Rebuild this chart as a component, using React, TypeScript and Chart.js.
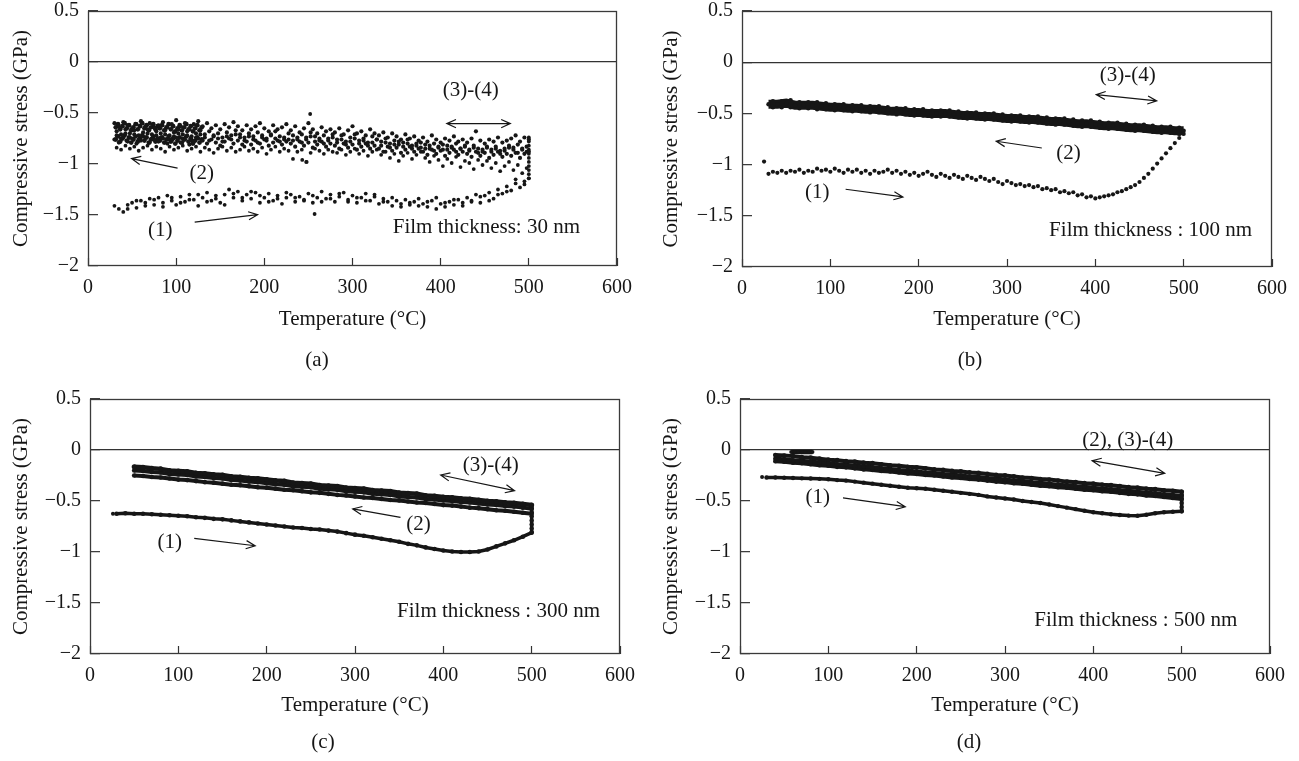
import React, { useEffect, useRef } from "react";
import { Chart, registerables } from "chart.js";

Chart.register(...registerables);

const FONT = "'Liberation Serif', 'Times New Roman', serif";
const INK = "#161616";

const X_TITLE = "Temperature (°C)";
const Y_TITLE = "Compressive stress (GPa)";
const X_TICKS = [0, 100, 200, 300, 400, 500, 600];
const Y_TICKS = [-2, -1.5, -1, -0.5, 0, 0.5];
const CAPTIONS = ["(a)", "(b)", "(c)", "(d)"];
const THICKNESS = ["Film thickness: 30 nm", "Film thickness : 100 nm", "Film thickness : 300 nm", "Film thickness : 500 nm"];

// ---------- shared temperature grids (°C) ----------
const T5 = [30,35,40,45,50,55,60,65,70,75,80,85,90,95,100,105,110,115,120,125,130,135,140,145,150,155,160,165,170,175,180,185,190,195,200,205,210,215,220,225,230,235,240,245,250,255,260,265,270,275,280,285,290,295,300,305,310,315,320,325,330,335,340,345,350,355,360,365,370,375,380,385,390,395,400,405,410,415,420,425,430,435,440,445,450,455,460,465,470,475,480,485,490,495,500];
const T5S = [32.5,37.5,42.5,47.5,52.5,57.5,62.5,67.5,72.5,77.5,82.5,87.5,92.5,97.5,102.5,107.5,112.5,117.5,122.5,127.5,132.5,137.5,142.5,147.5,152.5,157.5,162.5,167.5,172.5,177.5,182.5,187.5,192.5,197.5,202.5,207.5,212.5,217.5,222.5,227.5,232.5,237.5,242.5,247.5,252.5,257.5,262.5,267.5,272.5,277.5,282.5,287.5,292.5,297.5,302.5,307.5,312.5,317.5,322.5,327.5,332.5,337.5,342.5,347.5,352.5,357.5,362.5,367.5,372.5,377.5,382.5,387.5,392.5,397.5,402.5,407.5,412.5,417.5,422.5,427.5,432.5,437.5,442.5,447.5,452.5,457.5,462.5,467.5,472.5,477.5,482.5,487.5,492.5,497.5];
const T10 = [30,40,50,60,70,80,90,100,110,120,130,140,150,160,170,180,190,200,210,220,230,240,250,260,270,280,290,300,310,320,330,340,350,360,370,380,390,400,410,420,430,440,450,460,470,480,490,500];
const T10B = [35,45,55,65,75,85,95,105,115,125,135,145,155,165,175,185,195,205,215,225,235,245,255,265,275,285,295,305,315,325,335,345,355,365,375,385,395,405,415,425,435,445,455,465,475,485,495];
const T10C = [50,60,70,80,90,100,110,120,130,140,150,160,170,180,190,200,210,220,230,240,250,260,270,280,290,300,310,320,330,340,350,360,370,380,390,400,410,420,430,440,450,460,470,480,490,500];
const T10D = [40,50,60,70,80,90,100,110,120,130,140,150,160,170,180,190,200,210,220,230,240,250,260,270,280,290,300,310,320,330,340,350,360,370,380,390,400,410,420,430,440,450,460,470,480,490,500];
const T_END = [500,500,500,500,500,500,500,500,500,500,500];

// ---------- (a) 30 nm ----------
const A_HEAT1 = [-1.41,-1.44,-1.47,-1.40,-1.38,-1.43,-1.36,-1.41,-1.34,-1.40,
  -1.33,-1.38,-1.31,-1.36,-1.40,-1.32,-1.37,-1.30,-1.35,-1.41,
  -1.33,-1.28,-1.36,-1.31,-1.38,-1.30,-1.25,-1.33,-1.27,-1.36,
  -1.30,-1.34,-1.28,-1.38,-1.33,-1.29,-1.36,-1.31,-1.39,-1.33,
  -1.30,-1.37,-1.32,-1.35,-1.29,-1.38,-1.33,-1.27,-1.34,-1.30,
  -1.37,-1.32,-1.28,-1.35,-1.31,-1.38,-1.33,-1.29,-1.36,-1.32,
  -1.39,-1.34,-1.37,-1.41,-1.36,-1.39,-1.35,-1.40,-1.37,-1.34,
  -1.39,-1.42,-1.36,-1.33,-1.39,-1.42,-1.37,-1.40,-1.35,-1.38,
  -1.33,-1.36,-1.30,-1.38,-1.31,-1.28,-1.34,-1.25,-1.29,-1.22,
  -1.26,-1.19,-1.23,-1.17,-1.14];
const A_HEAT1B_T = [45,55,65,75,85,95,105,115,125,135,145,155,165,175,185,195,205,215,225,235,245,255,265,275,285,295,305,315,325,335,345,355,365,375,385,395,405,415,425,435,445,455,465,475,485,495];
const A_HEAT1B = [-1.44,-1.36,-1.38,-1.35,-1.42,-1.33,-1.38,-1.35,-1.30,-1.37,
  -1.34,-1.40,-1.29,-1.33,-1.27,-1.31,-1.37,-1.34,-1.28,-1.33,
  -1.36,-1.31,-1.37,-1.34,-1.29,-1.37,-1.33,-1.36,-1.30,-1.37,
  -1.33,-1.42,-1.38,-1.41,-1.37,-1.44,-1.38,-1.35,-1.41,-1.37,
  -1.32,-1.36,-1.30,-1.27,-1.15,-1.20];
const A_BAND1 = [-0.60,-0.63,-0.59,-0.62,-0.65,-0.61,-0.58,-0.63,-0.60,-0.64,
  -0.62,-0.59,-0.64,-0.61,-0.57,-0.63,-0.60,-0.66,-0.61,-0.58,
  -0.63,-0.60,-0.65,-0.62,-0.66,-0.61,-0.64,-0.59,-0.63,-0.67,
  -0.62,-0.66,-0.63,-0.60,-0.65,-0.68,-0.62,-0.66,-0.64,-0.61,
  -0.67,-0.63,-0.69,-0.65,-0.60,-0.66,-0.70,-0.64,-0.68,-0.66,
  -0.69,-0.65,-0.71,-0.67,-0.63,-0.70,-0.68,-0.72,-0.66,-0.70,
  -0.72,-0.69,-0.74,-0.70,-0.73,-0.76,-0.71,-0.75,-0.73,-0.77,
  -0.74,-0.78,-0.72,-0.76,-0.79,-0.75,-0.77,-0.73,-0.78,-0.76,
  -0.79,-0.75,-0.68,-0.77,-0.80,-0.76,-0.78,-0.74,-0.79,-0.77,
  -0.75,-0.72,-0.78,-0.74,-0.76];
const A_BAND2 = [-0.68,-0.71,-0.66,-0.70,-0.67,-0.72,-0.69,-0.66,-0.71,-0.68,
  -0.70,-0.67,-0.72,-0.69,-0.66,-0.71,-0.68,-0.73,-0.70,-0.67,
  -0.71,-0.68,-0.73,-0.70,-0.74,-0.69,-0.72,-0.67,-0.71,-0.74,
  -0.70,-0.73,-0.69,-0.72,-0.75,-0.71,-0.68,-0.73,-0.76,-0.70,
  -0.72,-0.76,-0.71,-0.74,-0.69,-0.73,-0.77,-0.72,-0.75,-0.71,
  -0.76,-0.72,-0.78,-0.74,-0.71,-0.77,-0.75,-0.79,-0.73,-0.76,
  -0.78,-0.75,-0.80,-0.77,-0.81,-0.79,-0.76,-0.82,-0.80,-0.84,
  -0.81,-0.85,-0.80,-0.83,-0.86,-0.82,-0.84,-0.80,-0.85,-0.83,
  -0.86,-0.82,-0.85,-0.88,-0.84,-0.86,-0.83,-0.87,-0.85,-0.82,
  -0.84,-0.81,-0.86,-0.83];
const A_BAND3 = [-0.76,-0.79,-0.74,-0.78,-0.75,-0.80,-0.77,-0.74,-0.79,-0.76,
  -0.78,-0.75,-0.80,-0.77,-0.74,-0.79,-0.76,-0.81,-0.78,-0.75,
  -0.77,-0.80,-0.76,-0.79,-0.82,-0.78,-0.75,-0.80,-0.77,-0.81,
  -0.78,-0.81,-0.77,-0.80,-0.76,-0.82,-0.79,-0.77,-0.81,-0.78,
  -0.80,-0.83,-0.78,-0.82,-0.79,-0.84,-0.81,-0.78,-0.83,-0.80,
  -0.82,-0.85,-0.80,-0.84,-0.81,-0.86,-0.83,-0.80,-0.85,-0.82,
  -0.85,-0.88,-0.83,-0.87,-0.84,-0.89,-0.86,-0.83,-0.88,-0.85,
  -0.88,-0.91,-0.86,-0.90,-0.87,-0.92,-0.89,-0.86,-0.91,-0.88,
  -0.90,-0.93,-0.88,-0.92,-0.89,-0.94,-0.91,-0.88,-0.93,-0.90,
  -0.92,-0.89,-0.94,-0.90,-0.88];
const A_BAND4 = [-0.84,-0.86,-0.82,-0.85,-0.83,-0.87,-0.84,-0.82,-0.86,-0.83,
  -0.85,-0.88,-0.83,-0.86,-0.84,-0.82,-0.87,-0.85,-0.83,-0.88,
  -0.84,-0.86,-0.89,-0.85,-0.83,-0.87,-0.84,-0.88,-0.86,-0.83,
  -0.87,-0.85,-0.88,-0.84,-0.90,-0.86,-0.83,-0.88,-0.85,-0.87,
  -0.95,-0.88,-0.86,-0.98,-0.89,-0.85,-0.87,-0.90,-0.86,-0.88,
  -0.89,-0.86,-0.91,-0.88,-0.85,-0.90,-0.87,-0.92,-0.88,-0.86,
  -0.91,-0.88,-0.94,-0.90,-0.97,-0.92,-0.89,-0.95,-0.91,-0.88,
  -0.94,-0.98,-0.92,-0.96,-1.02,-0.95,-0.99,-0.93,-1.03,-0.97,
  -0.99,-1.05,-0.96,-1.01,-0.97,-1.04,-0.99,-1.07,-1.02,-0.98,
  -1.06,-1.01,-1.09,-1.04];
const A_BAND5 = [-0.72,-0.75,-0.70,-0.74,-0.71,-0.76,-0.73,-0.70,-0.75,-0.72,
  -0.74,-0.71,-0.76,-0.73,-0.70,-0.75,-0.72,-0.77,-0.74,-0.71,
  -0.74,-0.77,-0.72,-0.75,-0.78,-0.73,-0.76,-0.71,-0.74,-0.77,
  -0.73,-0.76,-0.79,-0.74,-0.77,-0.72,-0.75,-0.78,-0.74,-0.76,
  -0.77,-0.74,-0.79,-0.76,-0.73,-0.78,-0.75,-0.80,-0.77,-0.74,
  -0.79,-0.76,-0.81,-0.78,-0.75,-0.80,-0.77,-0.82,-0.79,-0.76,
  -0.82,-0.79,-0.84,-0.81,-0.78,-0.83,-0.80,-0.85,-0.82,-0.79,
  -0.85,-0.82,-0.87,-0.84,-0.81,-0.86,-0.83,-0.88,-0.85,-0.82,
  -0.87,-0.84,-0.89,-0.86,-0.83,-0.88,-0.85,-0.90,-0.87,-0.84,
  -0.86,-0.89,-0.85,-0.88];
const A_DENSE_T = [31.5,34,36.5,39,41.5,44,46.5,49,51.5,54,56.5,59,61.5,64,66.5,69,71.5,74,76.5,79,81.5,84,86.5,89,91.5,94,96.5,99,101.5,104,106.5,109,111.5,114,116.5,119,121.5,124,126.5,129];
const A_DENSE1 = [-0.64,-0.61,-0.66,-0.63,-0.60,-0.65,-0.62,-0.67,-0.64,-0.61,
  -0.66,-0.63,-0.60,-0.65,-0.62,-0.67,-0.64,-0.61,-0.66,-0.63,
  -0.65,-0.62,-0.67,-0.64,-0.61,-0.66,-0.63,-0.68,-0.65,-0.62,
  -0.67,-0.64,-0.61,-0.66,-0.63,-0.68,-0.65,-0.62,-0.67,-0.64];
const A_DENSE2 = [-0.76,-0.73,-0.78,-0.75,-0.72,-0.77,-0.74,-0.79,-0.76,-0.73,
  -0.78,-0.75,-0.72,-0.77,-0.74,-0.79,-0.76,-0.73,-0.78,-0.75,
  -0.77,-0.74,-0.79,-0.76,-0.73,-0.78,-0.75,-0.80,-0.77,-0.74,
  -0.79,-0.76,-0.73,-0.78,-0.75,-0.80,-0.77,-0.74,-0.79,-0.76];
const A_END = [-0.74,-0.78,-0.82,-0.86,-0.90,-0.94,-0.98,-1.02,-1.06,-1.10,-1.14];
const A_STRAY_T = [252, 257, 243, 248];
const A_STRAY = [-0.51, -1.49, -0.96, -0.98];

// ---------- (b) 100 nm ----------
const B_HEAT1 = [-1.09,-1.07,-1.08,-1.06,-1.08,-1.06,-1.07,-1.05,-1.08,-1.06,
  -1.07,-1.04,-1.06,-1.05,-1.07,-1.04,-1.06,-1.08,-1.05,-1.07,
  -1.05,-1.08,-1.06,-1.09,-1.06,-1.08,-1.07,-1.05,-1.08,-1.06,
  -1.09,-1.07,-1.10,-1.08,-1.11,-1.09,-1.07,-1.10,-1.12,-1.09,
  -1.11,-1.13,-1.10,-1.12,-1.14,-1.11,-1.13,-1.15,-1.12,-1.14,
  -1.16,-1.14,-1.17,-1.19,-1.16,-1.18,-1.20,-1.19,-1.21,-1.20,
  -1.22,-1.21,-1.24,-1.23,-1.25,-1.24,-1.27,-1.26,-1.28,-1.27,
  -1.30,-1.29,-1.32,-1.31,-1.33,-1.32,-1.31,-1.30,-1.29,-1.27,
  -1.26,-1.24,-1.22,-1.20,-1.17,-1.13,-1.09,-1.04,-0.99,-0.94,
  -0.89,-0.84,-0.79,-0.74,-0.70];
const B_STRAY_T = [25];
const B_STRAY = [-0.97];
const B_CORE = [-0.41,-0.41,-0.40,-0.42,-0.42,-0.42,-0.43,-0.44,-0.44,-0.45,
  -0.45,-0.46,-0.46,-0.47,-0.48,-0.48,-0.49,-0.49,-0.50,-0.50,
  -0.50,-0.51,-0.52,-0.52,-0.53,-0.53,-0.54,-0.55,-0.55,-0.56,
  -0.56,-0.57,-0.58,-0.58,-0.59,-0.60,-0.60,-0.61,-0.62,-0.62,
  -0.63,-0.64,-0.64,-0.65,-0.66,-0.66,-0.67,-0.67];
const B_TOP = [-0.38,-0.38,-0.37,-0.39,-0.39,-0.39,-0.40,-0.41,-0.41,-0.42,
  -0.42,-0.43,-0.43,-0.44,-0.45,-0.45,-0.46,-0.46,-0.47,-0.47,
  -0.47,-0.48,-0.49,-0.49,-0.50,-0.50,-0.51,-0.52,-0.52,-0.53,
  -0.53,-0.54,-0.55,-0.55,-0.56,-0.57,-0.57,-0.58,-0.59,-0.59,
  -0.60,-0.61,-0.61,-0.62,-0.63,-0.63,-0.64];
const B_BOT = [-0.44,-0.44,-0.44,-0.45,-0.45,-0.46,-0.46,-0.47,-0.47,-0.48,
  -0.48,-0.49,-0.49,-0.50,-0.51,-0.51,-0.52,-0.52,-0.53,-0.53,
  -0.53,-0.54,-0.55,-0.55,-0.56,-0.56,-0.57,-0.58,-0.58,-0.59,
  -0.59,-0.60,-0.61,-0.61,-0.62,-0.63,-0.63,-0.64,-0.65,-0.65,
  -0.66,-0.67,-0.67,-0.68,-0.69,-0.69,-0.70];

// ---------- (c) 300 nm ----------
const C_HEAT1 = [-0.625,-0.62,-0.625,-0.625,-0.63,-0.635,-0.64,-0.645,-0.65,-0.66,
  -0.665,-0.675,-0.68,-0.69,-0.70,-0.71,-0.72,-0.73,-0.74,-0.75,
  -0.76,-0.765,-0.775,-0.78,-0.79,-0.80,-0.815,-0.83,-0.84,-0.855,
  -0.87,-0.885,-0.90,-0.92,-0.935,-0.955,-0.97,-0.985,-0.995,-1.0,
  -1.0,-0.995,-0.975,-0.945,-0.915,-0.885,-0.85,-0.81];
const C_COOL2 = [-0.25,-0.255,-0.265,-0.27,-0.28,-0.29,-0.295,-0.305,-0.315,-0.32,
  -0.33,-0.34,-0.345,-0.355,-0.365,-0.37,-0.38,-0.39,-0.395,-0.405,
  -0.415,-0.42,-0.43,-0.44,-0.445,-0.455,-0.465,-0.47,-0.48,-0.49,
  -0.495,-0.505,-0.515,-0.52,-0.53,-0.54,-0.545,-0.555,-0.565,-0.57,
  -0.58,-0.59,-0.595,-0.605,-0.615,-0.625];
const C_CYC3 = [-0.165,-0.17,-0.18,-0.185,-0.20,-0.205,-0.21,-0.225,-0.23,-0.24,
  -0.245,-0.26,-0.265,-0.275,-0.28,-0.29,-0.30,-0.305,-0.32,-0.325,
  -0.33,-0.345,-0.35,-0.355,-0.37,-0.375,-0.38,-0.395,-0.40,-0.405,
  -0.42,-0.425,-0.43,-0.445,-0.45,-0.46,-0.465,-0.475,-0.48,-0.49,
  -0.50,-0.505,-0.515,-0.52,-0.53,-0.54];
const C_CYC4 = [-0.20,-0.205,-0.215,-0.22,-0.235,-0.24,-0.245,-0.26,-0.265,-0.275,
  -0.28,-0.295,-0.30,-0.31,-0.315,-0.325,-0.335,-0.34,-0.355,-0.36,
  -0.365,-0.38,-0.385,-0.39,-0.405,-0.41,-0.415,-0.43,-0.435,-0.44,
  -0.455,-0.46,-0.465,-0.48,-0.485,-0.495,-0.50,-0.51,-0.515,-0.525,
  -0.535,-0.54,-0.55,-0.555,-0.565,-0.575];
const C_END = [-0.81,-0.77,-0.73,-0.69,-0.65,-0.61,-0.57,-0.54];
const C_STRAY_T = [26];
const C_STRAY = [-0.625];

// ---------- (d) 500 nm ----------
const D_HEAT1 = [-0.27,-0.27,-0.272,-0.275,-0.278,-0.28,-0.283,-0.287,-0.295,-0.30,
  -0.31,-0.32,-0.33,-0.34,-0.35,-0.36,-0.37,-0.375,-0.38,-0.39,
  -0.40,-0.41,-0.42,-0.43,-0.44,-0.455,-0.465,-0.475,-0.485,-0.50,
  -0.51,-0.52,-0.535,-0.55,-0.565,-0.58,-0.595,-0.61,-0.62,-0.63,
  -0.637,-0.643,-0.645,-0.635,-0.62,-0.61,-0.605,-0.60];
const D_COOL2 = [-0.05,-0.055,-0.06,-0.07,-0.075,-0.085,-0.095,-0.10,-0.11,-0.115,
  -0.125,-0.13,-0.14,-0.15,-0.155,-0.165,-0.17,-0.18,-0.19,-0.195,
  -0.205,-0.21,-0.22,-0.225,-0.235,-0.245,-0.25,-0.26,-0.27,-0.275,
  -0.285,-0.29,-0.30,-0.31,-0.315,-0.325,-0.33,-0.34,-0.345,-0.355,
  -0.365,-0.37,-0.38,-0.385,-0.395,-0.40,-0.41];
const D_CYC3 = [-0.085,-0.09,-0.10,-0.105,-0.115,-0.12,-0.13,-0.14,-0.145,-0.155,
  -0.16,-0.17,-0.18,-0.185,-0.195,-0.20,-0.21,-0.22,-0.225,-0.235,
  -0.24,-0.25,-0.26,-0.265,-0.275,-0.28,-0.29,-0.30,-0.305,-0.315,
  -0.32,-0.33,-0.34,-0.345,-0.355,-0.36,-0.37,-0.38,-0.385,-0.395,
  -0.40,-0.41,-0.42,-0.425,-0.435,-0.44,-0.45];
const D_CYC4 = [-0.11,-0.115,-0.125,-0.13,-0.14,-0.15,-0.155,-0.165,-0.17,-0.18,
  -0.19,-0.195,-0.205,-0.21,-0.22,-0.23,-0.235,-0.245,-0.25,-0.26,
  -0.27,-0.275,-0.285,-0.29,-0.30,-0.31,-0.315,-0.325,-0.33,-0.34,
  -0.35,-0.355,-0.365,-0.37,-0.38,-0.39,-0.395,-0.405,-0.41,-0.42,
  -0.43,-0.435,-0.445,-0.45,-0.46,-0.47,-0.48];
const D_BAR_T = [58, 62, 66, 70, 74, 78, 82];
const D_BAR = [-0.02, -0.02, -0.02, -0.02, -0.02, -0.02, -0.02];
const D_END = [-0.60,-0.56,-0.52,-0.48,-0.44,-0.41];
const D_STRAY_T = [25];
const D_STRAY = [-0.265];

// ---------- annotations (data coordinates) ----------
type Txt = { text: string; x: number; y: number; align?: CanvasTextAlign };
type Arw = { x1: number; y1: number; x2: number; y2: number; both?: boolean };

const A_TEXTS: Txt[] = [
  { text: "(3)-(4)", x: 434, y: -0.277 },
  { text: "(2)", x: 129, y: -1.09 },
  { text: "(1)", x: 82, y: -1.65 },
  { text: THICKNESS[0], x: 558, y: -1.618, align: "right" },
];
const A_ARROWS: Arw[] = [
  { x1: 407, y1: -0.604, x2: 479, y2: -0.604, both: true },
  { x1: 101.6, y1: -1.04, x2: 49.4, y2: -0.947 },
  { x1: 121, y1: -1.569, x2: 192.4, y2: -1.497 },
];
const B_TEXTS: Txt[] = [
  { text: "(3)-(4)", x: 436.6, y: -0.127 },
  { text: "(2)", x: 369.7, y: -0.893 },
  { text: "(1)", x: 85.2, y: -1.274 },
  { text: THICKNESS[1], x: 577.5, y: -1.642, align: "right" },
];
const B_ARROWS: Arw[] = [
  { x1: 401, y1: -0.316, x2: 469.5, y2: -0.378, both: true },
  { x1: 339.4, y1: -0.838, x2: 287.8, y2: -0.772 },
  { x1: 117.3, y1: -1.241, x2: 182.2, y2: -1.316 },
];
const C_TEXTS: Txt[] = [
  { text: "(3)-(4)", x: 453.7, y: -0.147 },
  { text: "(2)", x: 372, y: -0.732 },
  { text: "(1)", x: 90.2, y: -0.906 },
  { text: THICKNESS[2], x: 577.4, y: -1.585, align: "right" },
];
const C_ARROWS: Arw[] = [
  { x1: 397, y1: -0.245, x2: 480.6, y2: -0.399, both: true },
  { x1: 351.5, y1: -0.661, x2: 297.4, y2: -0.578 },
  { x1: 118, y1: -0.867, x2: 187, y2: -0.939 },
];
const D_TEXTS: Txt[] = [
  { text: "(2), (3)-(4)", x: 439, y: 0.091 },
  { text: "(1)", x: 88, y: -0.47 },
  { text: THICKNESS[3], x: 563, y: -1.667, align: "right" },
];
const D_ARROWS: Arw[] = [
  { x1: 398.6, y1: -0.105, x2: 480.8, y2: -0.229, both: true },
  { x1: 116.6, y1: -0.47, x2: 187.1, y2: -0.556 },
];

// ---------- panel definitions ----------
type Series = { x: number[]; y: number[]; r: number; line?: number };
type Panel = { caption: string; series: Series[]; texts: Txt[]; arrows: Arw[] };

const PANELS: Panel[] = [
  {
    caption: CAPTIONS[0],
    series: [
      { x: T5, y: A_HEAT1, r: 1.9 },
      { x: A_HEAT1B_T, y: A_HEAT1B, r: 1.9 },
      { x: T5, y: A_BAND1, r: 2.1 },
      { x: T5S, y: A_BAND2, r: 2.1 },
      { x: T5, y: A_BAND3, r: 2.1 },
      { x: T5S, y: A_BAND4, r: 1.9 },
      { x: T5S, y: A_BAND5, r: 2.1 },
      { x: A_DENSE_T, y: A_DENSE1, r: 2.4 },
      { x: A_DENSE_T, y: A_DENSE2, r: 2.4 },
      { x: T_END, y: A_END, r: 1.9 },
      { x: A_STRAY_T, y: A_STRAY, r: 1.9 },
    ],
    texts: A_TEXTS,
    arrows: A_ARROWS,
  },
  {
    caption: CAPTIONS[1],
    series: [
      { x: T5, y: B_HEAT1, r: 2.1 },
      { x: B_STRAY_T, y: B_STRAY, r: 2.1 },
      { x: T10, y: B_CORE, r: 2.2, line: 9 },
      { x: T10B, y: B_TOP, r: 2.2 },
      { x: T10B, y: B_BOT, r: 2.2 },
    ],
    texts: B_TEXTS,
    arrows: B_ARROWS,
  },
  {
    caption: CAPTIONS[2],
    series: [
      { x: T10, y: C_HEAT1, r: 2.3, line: 3.5 },
      { x: C_STRAY_T, y: C_STRAY, r: 2 },
      { x: T10C, y: C_COOL2, r: 2.3, line: 4 },
      { x: T10C, y: C_CYC3, r: 2.5, line: 4.5 },
      { x: T10C, y: C_CYC4, r: 2.3, line: 4 },
      { x: T_END.slice(0, C_END.length), y: C_END, r: 2.2, line: 3.5 },
    ],
    texts: C_TEXTS,
    arrows: C_ARROWS,
  },
  {
    caption: CAPTIONS[3],
    series: [
      { x: T10, y: D_HEAT1, r: 2.2, line: 3.5 },
      { x: D_STRAY_T, y: D_STRAY, r: 2 },
      { x: T10D, y: D_COOL2, r: 2.4, line: 4 },
      { x: T10D, y: D_CYC3, r: 2.3, line: 4 },
      { x: T10D, y: D_CYC4, r: 2.3, line: 4 },
      { x: D_BAR_T, y: D_BAR, r: 2, line: 4.5 },
      { x: T_END.slice(0, D_END.length), y: D_END, r: 2.2, line: 3.5 },
    ],
    texts: D_TEXTS,
    arrows: D_ARROWS,
  },
];

// pixel layout of each panel (canvas box + plot frame)
const LAYOUT = [
  { left: 0, top: 0, w: 650, h: 380, yW: 88, padTop: 11, padRight: 33, padBottom: 48.4, plotBottom: 266, capX: 317, capY: 360 },
  { left: 650, top: 0, w: 649, h: 380, yW: 92, padTop: 11, padRight: 27, padBottom: 48.1, plotBottom: 267, capX: 320, capY: 360 },
  { left: 0, top: 380, w: 650, h: 381, yW: 90, padTop: 19, padRight: 30, padBottom: 43.4, plotBottom: 274, capX: 323, capY: 362 },
  { left: 650, top: 380, w: 649, h: 381, yW: 90, padTop: 19, padRight: 29, padBottom: 43.4, plotBottom: 274, capX: 319, capY: 362 },
];

function fmtY(v: number): string {
  if (Math.abs(v) < 1e-9) return "0";
  if (v < 0) return "\u2212" + String(Math.abs(v));
  return String(v);
}

function drawHead(ctx: CanvasRenderingContext2D, x1: number, y1: number, x2: number, y2: number) {
  const a = Math.atan2(y2 - y1, x2 - x1);
  const L = 10;
  const w = 0.42;
  ctx.moveTo(x2 - L * Math.cos(a - w), y2 - L * Math.sin(a - w));
  ctx.lineTo(x2, y2);
  ctx.lineTo(x2 - L * Math.cos(a + w), y2 - L * Math.sin(a + w));
}

function makeAnnot(p: Panel, lay: (typeof LAYOUT)[number], id: string) {
  return {
    id,
    afterDraw(chart: any) {
      const { ctx, chartArea: ca, scales } = chart;
      const xs = scales.x;
      const ys = scales.y;
      ctx.save();
      ctx.strokeStyle = "#3a3a3a";
      ctx.lineWidth = 1.3;
      const l = Math.round(ca.left) + 0.5;
      const t = Math.round(ca.top) + 0.5;
      const r = Math.round(ca.right) - 0.5;
      const b = Math.round(ca.bottom) - 0.5;
      ctx.strokeRect(l, t, r - l, b - t);
      ctx.strokeStyle = INK;
      ctx.lineWidth = 1.2;
      for (const a of p.arrows) {
        const px1 = xs.getPixelForValue(a.x1);
        const py1 = ys.getPixelForValue(a.y1);
        const px2 = xs.getPixelForValue(a.x2);
        const py2 = ys.getPixelForValue(a.y2);
        ctx.beginPath();
        ctx.moveTo(px1, py1);
        ctx.lineTo(px2, py2);
        drawHead(ctx, px1, py1, px2, py2);
        if (a.both) drawHead(ctx, px2, py2, px1, py1);
        ctx.stroke();
      }
      ctx.fillStyle = INK;
      ctx.font = `21px ${FONT}`;
      ctx.textBaseline = "middle";
      for (const tx of p.texts) {
        ctx.textAlign = tx.align || "center";
        ctx.fillText(tx.text, xs.getPixelForValue(tx.x), ys.getPixelForValue(tx.y));
      }
      ctx.textAlign = "center";
      ctx.fillText(p.caption, lay.capX, lay.capY);
      ctx.restore();
    },
  };
}

function PanelChart({ index }: { index: number }) {
  const ref = useRef<HTMLCanvasElement | null>(null);
  const p = PANELS[index];
  const lay = LAYOUT[index];
  useEffect(() => {
    if (!ref.current) return;
    const xH = lay.h - lay.padBottom - lay.plotBottom;
    const chart = new Chart(ref.current, {
      type: "scatter",
      data: {
        datasets: p.series.map((s) => ({
          data: s.x.map((xv, i) => ({ x: xv, y: s.y[i] })),
          pointRadius: s.r,
          pointHoverRadius: s.r,
          pointBackgroundColor: INK,
          pointBorderWidth: 0,
          backgroundColor: INK,
          borderColor: INK,
          showLine: !!s.line,
          borderWidth: s.line || 0,
          tension: 0,
        })),
      },
      options: {
        animation: false,
        responsive: false,
        devicePixelRatio: 1,
        events: [],
        layout: { autoPadding: false, padding: { left: 0, top: lay.padTop, right: lay.padRight, bottom: lay.padBottom } },
        plugins: { legend: { display: false }, tooltip: { enabled: false }, title: { display: false } },
        scales: {
          x: {
            type: "linear",
            position: "bottom",
            min: X_TICKS[0],
            max: X_TICKS[X_TICKS.length - 1],
            afterBuildTicks: (s: any) => {
              s.ticks = X_TICKS.map((v) => ({ value: v }));
            },
            ticks: {
              font: { family: FONT, size: 20, lineHeight: 1 },
              color: INK,
              padding: 20,
              maxRotation: 0,
              autoSkip: false,
            },
            grid: {
              drawOnChartArea: false,
              drawTicks: true,
              tickLength: -8,
              tickColor: "#333",
              tickWidth: 1.2,
            },
            border: { display: false },
            title: {
              display: true,
              text: X_TITLE,
              color: INK,
              font: { family: FONT, size: 21 },
              padding: { top: 0, bottom: 0 },
            },
            afterFit: (s: any) => {
              s.height = xH;
              s.paddingLeft = 0;
              s.paddingRight = 0;
            },
          },
          y: {
            type: "linear",
            position: "left",
            min: Y_TICKS[0],
            max: Y_TICKS[Y_TICKS.length - 1],
            afterBuildTicks: (s: any) => {
              s.ticks = Y_TICKS.map((v) => ({ value: v }));
            },
            ticks: {
              font: { family: FONT, size: 20, lineHeight: 1 },
              color: INK,
              padding: 19,
              autoSkip: false,
              callback: (v: any) => fmtY(Number(v)),
            },
            grid: {
              drawOnChartArea: true,
              color: (c: any) => (c.tick && Math.abs(c.tick.value) < 1e-9 ? "#333" : "rgba(0,0,0,0)"),
              lineWidth: 1.3,
              drawTicks: true,
              tickLength: -10,
              tickColor: "#333",
              tickWidth: 1.2,
            },
            border: { display: false },
            title: {
              display: true,
              text: Y_TITLE,
              color: INK,
              font: { family: FONT, size: 21 },
              padding: { top: 9, bottom: 0 },
            },
            afterFit: (s: any) => {
              s.width = lay.yW;
              s.paddingTop = 0;
              s.paddingBottom = 0;
            },
          },
        },
      } as any,
      plugins: [makeAnnot(p, lay, "annot" + index)],
    });
    return () => chart.destroy();
  }, [index]);
  return (
    <canvas
      ref={ref}
      width={lay.w}
      height={lay.h}
      style={{ position: "absolute", left: lay.left, top: lay.top, width: lay.w, height: lay.h }}
    />
  );
}

export default function App() {
  return (
    <div style={{ position: "fixed", left: 0, top: 0, width: 1299, height: 761, background: "#fff", overflow: "hidden" }}>
      {PANELS.map((_, i) => (
        <PanelChart key={i} index={i} />
      ))}
    </div>
  );
}
